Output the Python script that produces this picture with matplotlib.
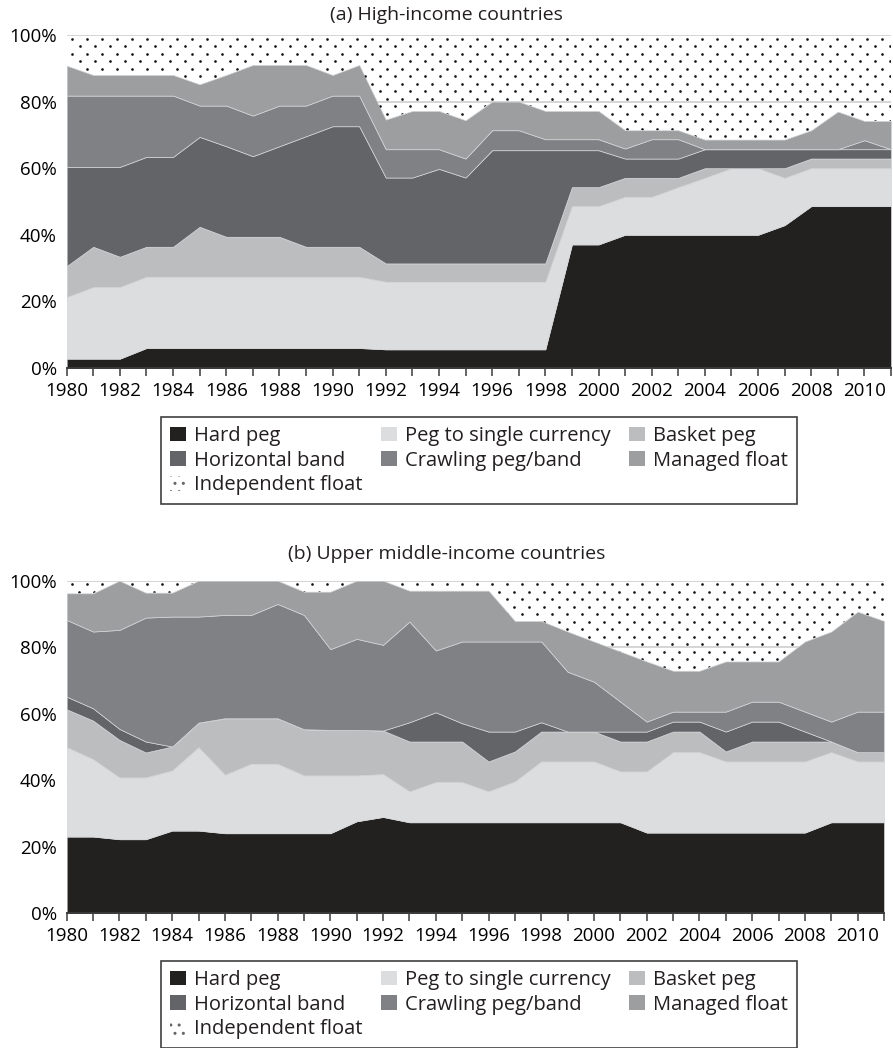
import numpy as np
import matplotlib
matplotlib.use("Agg")
import matplotlib.pyplot as plt
from matplotlib.patches import Patch

plt.rcParams['font.family'] = ['Open Sans', 'DejaVu Sans']
plt.rcParams['text.color'] = '#231f20'

years = np.arange(1980, 2012)
categories = ['Hard peg', 'Peg to single currency', 'Basket peg', 'Horizontal band',
              'Crawling peg/band', 'Managed float', 'Independent float']
colors = ['#222120', '#dcdddf', '#bcbdbf', '#636467', '#808184', '#9d9ea0', 'none']

# (a) High-income countries, % of countries
hard_a = [2.8, 2.8, 2.8, 6.0, 6.0, 6.0, 6.0, 6.0, 6.0, 6.0, 6.0, 6.0, 5.6, 5.6, 5.6, 5.6,
          5.6, 5.6, 5.6, 37.1, 37.1, 40.0, 40.0, 40.0, 40.0, 40.0, 40.0, 42.9, 48.6, 48.6, 48.6, 48.6]
peg_a = [18.5, 21.5, 21.5, 21.4, 21.4, 21.4, 21.4, 21.4, 21.4, 21.4, 21.4, 21.4, 20.3, 20.3, 20.3, 20.3,
         20.3, 20.3, 20.3, 11.5, 11.5, 11.4, 11.4, 14.3, 17.1, 20.0, 20.0, 14.2, 11.4, 11.4, 11.4, 11.4]
basket_a = [9.3, 12.1, 9.1, 9.0, 9.0, 15.0, 12.0, 12.0, 12.0, 9.0, 9.0, 9.0, 5.5, 5.5, 5.5, 5.5,
            5.5, 5.5, 5.5, 5.7, 5.7, 5.7, 5.7, 2.8, 2.9, 0.0, 0.0, 2.9, 2.9, 2.9, 2.9, 2.9]
horiz_a = [29.8, 24.0, 27.0, 27.0, 27.0, 27.0, 27.2, 24.2, 27.2, 33.2, 36.2, 36.2, 25.8, 25.8, 28.4, 25.8,
           34.0, 34.0, 34.0, 11.1, 11.1, 5.8, 5.8, 5.8, 5.7, 5.7, 5.7, 5.7, 2.8, 2.8, 2.8, 2.8]
crawl_a = [21.4, 21.4, 21.4, 18.4, 18.4, 9.4, 12.2, 12.2, 12.2, 9.2, 9.2, 9.2, 8.5, 8.5, 5.9, 5.7,
           6.0, 6.0, 3.3, 3.3, 3.3, 3.0, 5.8, 5.8, 0.0, 0.0, 0.0, 0.0, 0.0, 0.0, 2.7, 0.0]
managed_a = [9.0, 6.2, 6.2, 6.2, 6.2, 6.4, 9.2, 15.2, 12.2, 12.2, 6.2, 9.2, 8.9, 11.5, 11.5, 11.5,
             8.6, 8.6, 8.5, 8.5, 8.5, 5.5, 2.7, 2.7, 2.9, 2.9, 2.9, 2.9, 5.7, 11.3, 5.8, 8.5]
indep_a = [9.2, 12.0, 12.0, 12.0, 12.0, 14.8, 12.0, 9.0, 9.0, 9.0, 12.0, 9.0, 25.4, 22.8, 22.8, 25.6,
           20.0, 20.0, 22.8, 22.8, 22.8, 28.6, 28.6, 28.6, 31.4, 31.4, 31.4, 31.4, 28.6, 23.0, 25.8, 25.8]

# (b) Upper middle-income countries, % of countries
hard_b = [23.0, 23.0, 22.2, 22.2, 24.8, 24.8, 24.0, 24.0, 24.0, 24.0, 24.0, 27.6, 28.9, 27.3, 27.3, 27.3,
          27.3, 27.3, 27.3, 27.3, 27.3, 27.3, 24.2, 24.2, 24.2, 24.2, 24.2, 24.2, 24.2, 27.3, 27.3, 27.3]
peg_b = [26.9, 23.3, 18.6, 18.6, 18.1, 25.1, 17.6, 20.9, 20.9, 17.4, 17.4, 13.8, 12.9, 9.3, 12.1, 12.1,
         9.3, 12.3, 18.3, 18.3, 18.3, 15.3, 18.4, 24.2, 24.2, 21.4, 21.4, 21.4, 21.4, 21.1, 18.3, 18.3]
basket_b = [11.4, 11.6, 11.3, 7.5, 7.2, 7.4, 17.0, 13.7, 13.7, 13.9, 13.7, 13.7, 13.1, 15.0, 12.2, 12.2,
            9.0, 9.0, 9.0, 9.0, 9.0, 9.0, 9.0, 6.2, 6.2, 3.0, 6.0, 6.0, 6.0, 3.2, 2.8, 2.8]
horiz_b = [3.8, 3.7, 3.3, 3.3, 0.0, 0.0, 0.0, 0.0, 0.0, 0.0, 0.0, 0.0, 0.0, 5.8, 8.8, 5.5,
           9.0, 6.0, 2.8, 0.0, 0.0, 3.0, 3.0, 3.0, 3.0, 6.0, 6.0, 6.0, 3.0, 0.0, 0.0, 0.0]
crawl_b = [23.1, 23.1, 29.8, 37.3, 39.1, 31.9, 31.1, 31.1, 34.4, 34.4, 24.3, 27.4, 25.8, 30.3, 18.6, 24.6,
           27.1, 27.1, 24.3, 18.0, 15.0, 9.0, 3.0, 3.0, 3.0, 6.0, 6.0, 6.0, 6.0, 6.0, 12.2, 12.2]
managed_b = [8.0, 11.5, 14.8, 7.5, 7.2, 10.8, 10.3, 10.3, 7.0, 7.0, 17.3, 17.5, 19.3, 9.3, 18.0, 15.3,
             15.3, 6.2, 6.2, 12.1, 12.1, 15.1, 18.1, 12.3, 12.3, 15.1, 12.1, 12.1, 21.1, 27.1, 30.1, 27.3]
indep_b = [3.8, 3.8, 0.0, 3.6, 3.6, 0.0, 0.0, 0.0, 0.0, 3.3, 3.3, 0.0, 0.0, 3.0, 3.0, 3.0,
           3.0, 12.1, 12.1, 15.3, 18.3, 21.3, 24.3, 27.1, 27.1, 24.3, 24.3, 24.3, 18.3, 15.3, 9.3, 12.1]

W, H = 893, 1048
fig = plt.figure(figsize=(W / 100, H / 100), dpi=100)


def draw_panel(rect, layers, title, title_y, legend_rect):
    ax = fig.add_axes(rect)
    polys = ax.stackplot(years, *layers, colors=colors, edgecolor='#d4d5d7', linewidth=0.5)
    polys[-1].set_edgecolor('none')

    ax.set_xlim(1980, 2011)
    ax.set_ylim(0, 100)
    ax.set_yticks([0, 20, 40, 60, 80, 100])
    ax.set_yticklabels(['0%', '20%', '40%', '60%', '80%', '100%'])
    ax.set_xticks(years)
    ax.set_xticklabels([str(y) if y % 2 == 0 else '' for y in years])
    ax.tick_params(axis='x', length=6, width=1.1, color='#3a3a3a', pad=4, labelsize=13.5)
    ax.tick_params(axis='y', length=0, pad=7, labelsize=13.5)
    ax.yaxis.grid(True, color='#c9cacc', linewidth=1.1)
    ax.set_axisbelow(True)
    for s in ['top', 'right', 'left']:
        ax.spines[s].set_visible(False)
    ax.spines['bottom'].set_color('#3a3a3a')
    ax.spines['bottom'].set_linewidth(1.4)
    ax.spines['bottom'].set_zorder(5)

    # dotted texture for the independent float area
    wpx = rect[2] * W
    hpx = rect[3] * H
    dx = 15 / (wpx / 31)
    dy = 7.5 / (hpx / 100)
    xs, ys = [], []
    for i, yy in enumerate(np.arange(100 - dy / 2, 0, -dy)):
        off = dx / 2 if i % 2 else 0
        row = np.arange(1980 + 0.2 + off, 2011, dx)
        xs.extend(row)
        ys.extend([yy] * len(row))
    dots = ax.scatter(xs, ys, s=3.6, c='#111111', linewidths=0, zorder=3)
    dots.set_clip_path(polys[-1].get_paths()[0], ax.transData)

    fig.text(0.5, title_y, title, ha='center', va='center', fontsize=14)

    handles = [Patch(facecolor=c, edgecolor='none') for c in colors[:-1]]
    handles.append(Patch(facecolor='white', edgecolor='#666666', hatch='..', linewidth=0))
    order = [0, 3, 6, 1, 4, 2, 5]
    leg = fig.legend([handles[i] for i in order], [categories[i] for i in order],
                     ncol=3, loc='upper left', bbox_to_anchor=legend_rect, mode='expand',
                     borderaxespad=0, fontsize=14.5, frameon=True, fancybox=False,
                     edgecolor='#404040', framealpha=1, handlelength=0.8, handleheight=0.75,
                     handletextpad=0.4, labelspacing=0.23, borderpad=0.45, columnspacing=0.8)
    leg.get_frame().set_linewidth(1.2)
    return ax


draw_panel([66.7 / W, 1 - 368 / H, (891 - 66.7) / W, 333 / H],
           [hard_a, peg_a, basket_a, horiz_a, crawl_a, managed_a, indep_a],
           '(a) High-income countries', 1 - 15 / H,
           (161 / W, 1 - 506 / H, 636 / W, 89 / H))

draw_panel([66.7 / W, 1 - 913 / H, (884 - 66.7) / W, 332.3 / H],
           [hard_b, peg_b, basket_b, horiz_b, crawl_b, managed_b, indep_b],
           '(b) Upper middle-income countries', 1 - 554 / H,
           (161 / W, 1 - 1050 / H, 636 / W, 89 / H))

fig.savefig('out.png', dpi=100)
